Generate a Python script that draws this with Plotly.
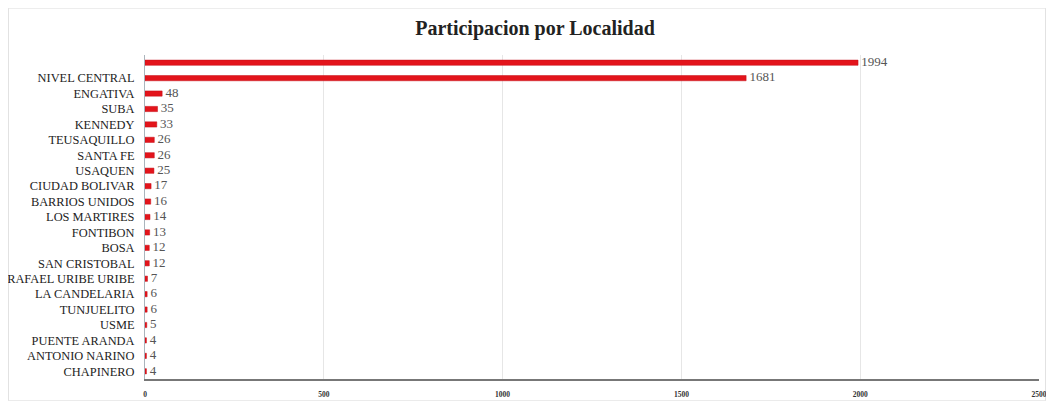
import plotly.graph_objects as go

categories = [" ", "NIVEL CENTRAL", "ENGATIVA", "SUBA", "KENNEDY", "TEUSAQUILLO",
              "SANTA FE", "USAQUEN", "CIUDAD BOLIVAR", "BARRIOS UNIDOS", "LOS MARTIRES",
              "FONTIBON", "BOSA", "SAN CRISTOBAL", "RAFAEL URIBE URIBE", "LA CANDELARIA",
              "TUNJUELITO", "USME", "PUENTE ARANDA", "ANTONIO NARINO", "CHAPINERO"]
values = [1994, 1681, 48, 35, 33, 26, 26, 25, 17, 16, 14, 13, 12, 12, 7, 6, 6, 5, 4, 4, 4]
x_ticks = [0, 500, 1000, 1500, 2000, 2500]

serif = "Liberation Serif, Times New Roman, serif"

# page body has an 8px default margin; work in reference pixel coords minus 8
OFF = 8
W, H = 1054 - 2 * OFF, 409 - 2 * OFF
L = 145 - OFF
R = 7
T = 55.3 - OFF
B = H - (378.7 - OFF)
pw, ph = W - L - R, H - T - B

fig = go.Figure()
fig.add_trace(go.Bar(
    x=values, y=categories, orientation="h",
    marker=dict(color="#e3141b", line=dict(color="#c40f18", width=0.5)),
    width=0.34, hoverinfo="x+y",
))
fig.add_trace(go.Scatter(
    x=values, y=categories, mode="text",
    text=[" " + str(v) for v in values], textposition="middle right",
    textfont=dict(family=serif, size=13, color="#555"),
    cliponaxis=False, hoverinfo="skip",
))

fig.update_layout(
    width=W, height=H,
    margin=dict(l=L, r=R, t=T, b=B, autoexpand=False),
    paper_bgcolor="white", plot_bgcolor="white",
    showlegend=False,
    title=dict(text="<b>Participacion por Localidad</b>", x=(535 - OFF) / W, xanchor="center",
               y=1 - (28 - OFF) / H, yanchor="middle",
               font=dict(family=serif, size=20, color="#222")),
    xaxis=dict(range=[0, 2500], tickvals=x_ticks, ticktext=[f"<b>{t}</b>" for t in x_ticks],
               showgrid=True, gridcolor="#e6e6e6", gridwidth=1, zeroline=False,
               showline=True, linecolor="#777", linewidth=1.5, automargin=False,
               tickfont=dict(family=serif, size=7.5, color="#333"), ticks="",
               ticklabelstandoff=7, ticklabeloverflow="allow"),
    yaxis=dict(range=[len(categories) - 0.5, -0.5], tickmode="array",
               tickvals=categories, ticktext=categories,
               showgrid=False, zeroline=False, automargin=False,
               showline=True, linecolor="#aab4bc", linewidth=1,
               tickfont=dict(family=serif, size=12.4, color="#222"), ticks="",
               ticklabelstandoff=7),
    shapes=[dict(type="rect", xref="paper", yref="paper",
                 x0=(0.5 - L) / pw, x1=(W - 0.5 - L) / pw,
                 y0=(H - B - (H - 0.5)) / ph, y1=(H - B - 0.5) / ph,
                 line=dict(color="#e2e2e2", width=1), fillcolor="rgba(0,0,0,0)", layer="below")],
)

fig.write_html("out.html")
